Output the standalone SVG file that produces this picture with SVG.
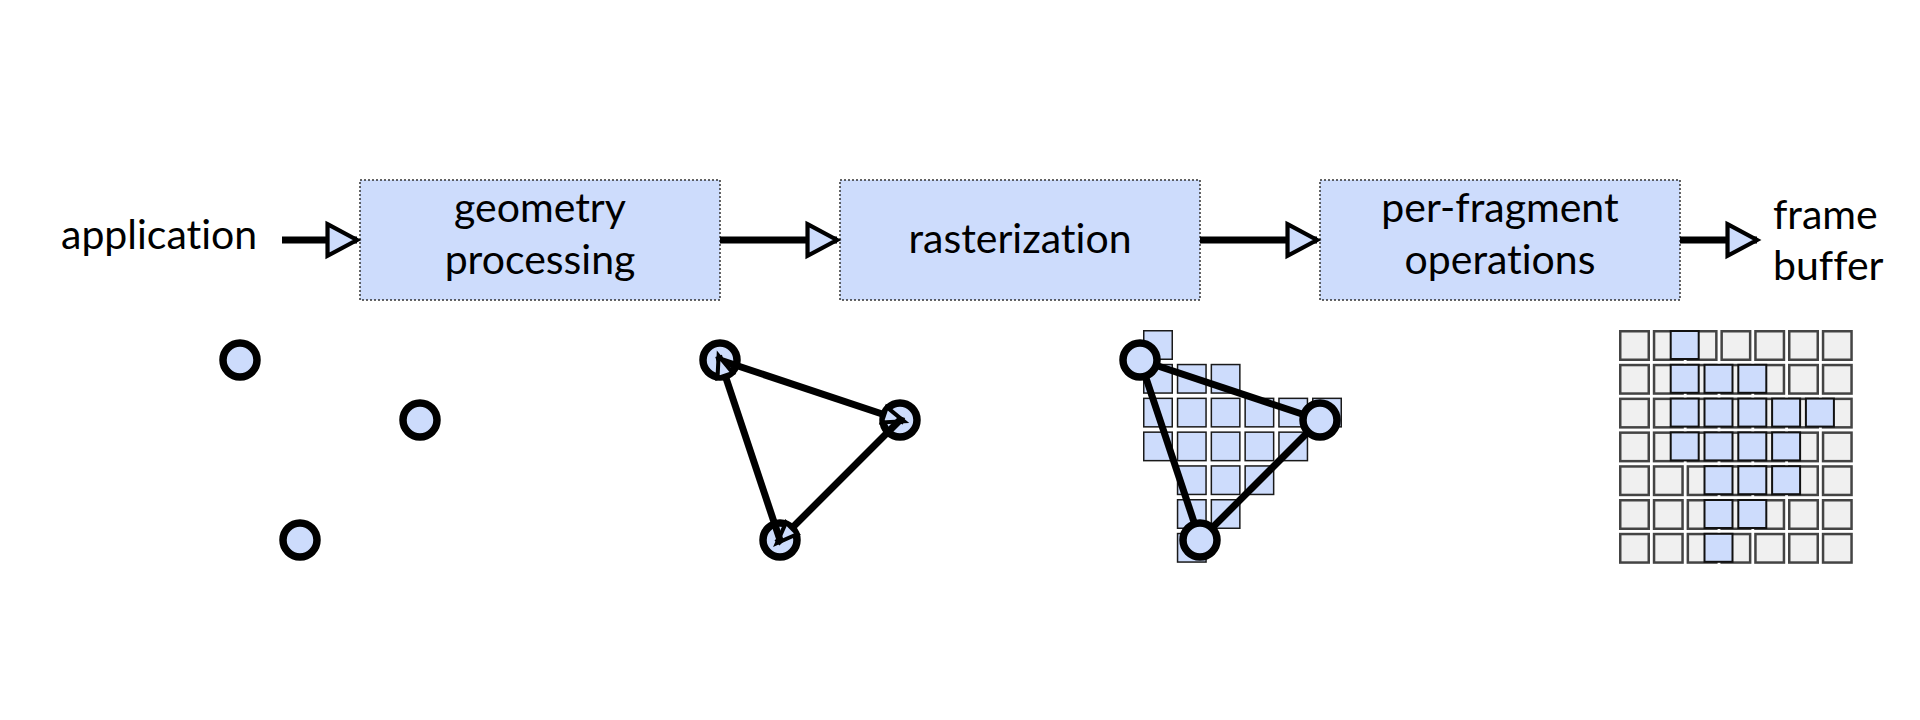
<svg xmlns="http://www.w3.org/2000/svg" width="1920" height="720" viewBox="0 0 1920 720">
  <style>
    .txt { font-family: Lato, "Liberation Sans", sans-serif; font-size: 41px; fill: #000; font-variant-ligatures: none; }
    .mid { text-anchor: middle; }
    .box { fill: #cddcfc; stroke: #333; stroke-width: 1.5; stroke-dasharray: 2 2; }
    .flow { stroke: #000; stroke-width: 7; fill: none; }
    .edge { stroke: #000; stroke-width: 7; fill: none; }
    .vtx { fill: #cddcfc; stroke: #000; stroke-width: 7.5; }
    .frag { fill: #cddcfc; stroke: #1a1a1a; stroke-width: 1.5; }
    .pix { fill: #f0f0f0; stroke: #444; stroke-width: 2.5; }
    .pixon { fill: #cddcfc; stroke: #111; stroke-width: 2; }
  </style>
  <defs>
    <marker id="bigHead" markerUnits="userSpaceOnUse" markerWidth="40" markerHeight="40" viewBox="-4 -19 38 38" refX="28" refY="0" orient="auto" overflow="visible">
      <path d="M0,-15 L28,0 L0,15 Z" fill="#cddcfc" stroke="#000" stroke-width="4" stroke-linejoin="miter"/>
    </marker>
    <marker id="smallHead" markerUnits="userSpaceOnUse" markerWidth="30" markerHeight="30" viewBox="-3 -10 26 20" refX="18" refY="0" orient="auto" overflow="visible">
      <path d="M0,-7 L18,0 L0,7 Z" fill="#cddcfc" stroke="#000" stroke-width="3.5" stroke-linejoin="miter"/>
    </marker>
  </defs>

  <rect width="1920" height="720" fill="#fff"/>

  <!-- pipeline nodes -->
  <g id="application">
    <text class="txt" x="61" y="249">application</text>
  </g>
  <g id="geometry-processing">
    <rect class="box" x="360" y="180" width="360" height="120"/>
    <text class="txt mid" x="540" y="222">geometry</text>
    <text class="txt mid" x="540" y="274">processing</text>
  </g>
  <g id="rasterization">
    <rect class="box" x="840" y="180" width="360" height="120"/>
    <text class="txt mid" x="1020" y="253">rasterization</text>
  </g>
  <g id="per-fragment-operations">
    <rect class="box" x="1320" y="180" width="360" height="120"/>
    <text class="txt mid" x="1500" y="222">per-fragment</text>
    <text class="txt mid" x="1500" y="274">operations</text>
  </g>
  <g id="frame-buffer">
    <text class="txt" x="1773" y="229">frame</text>
    <text class="txt" x="1773" y="280">buffer</text>
  </g>

  <!-- pipeline connectors -->
  <g id="connectors">
    <line class="flow" x1="282" y1="240" x2="357" y2="240" marker-end="url(#bigHead)"/>
    <line class="flow" x1="720" y1="240" x2="837" y2="240" marker-end="url(#bigHead)"/>
    <line class="flow" x1="1200" y1="240" x2="1317" y2="240" marker-end="url(#bigHead)"/>
    <line class="flow" x1="1680" y1="240" x2="1757" y2="240" marker-end="url(#bigHead)"/>
  </g>

  <!-- panel 1: vertices -->
  <g id="panel-vertices">
    <circle class="vtx" cx="240" cy="360" r="17"/>
    <circle class="vtx" cx="420" cy="420" r="17"/>
    <circle class="vtx" cx="300" cy="540" r="17"/>
  </g>

  <!-- panel 2: primitive -->
  <g id="panel-primitive">
    <circle class="vtx" cx="720" cy="360" r="17"/>
    <circle class="vtx" cx="900" cy="420" r="17"/>
    <circle class="vtx" cx="780" cy="540" r="17"/>
    <line class="edge" x1="720" y1="360" x2="904" y2="421.3" marker-end="url(#smallHead)"/>
    <line class="edge" x1="900" y1="420" x2="777" y2="543" marker-end="url(#smallHead)"/>
    <line class="edge" x1="780" y1="540" x2="718.6" y2="355.8" marker-end="url(#smallHead)"/>
  </g>

  <!-- panel 3: fragments -->
  <g id="panel-fragments">
    <rect class="frag" x="1143.75" y="330.75" width="28.5" height="28.5"/>
    <rect class="frag" x="1143.75" y="364.55" width="28.5" height="28.5"/>
    <rect class="frag" x="1177.55" y="364.55" width="28.5" height="28.5"/>
    <rect class="frag" x="1211.35" y="364.55" width="28.5" height="28.5"/>
    <rect class="frag" x="1143.75" y="398.35" width="28.5" height="28.5"/>
    <rect class="frag" x="1177.55" y="398.35" width="28.5" height="28.5"/>
    <rect class="frag" x="1211.35" y="398.35" width="28.5" height="28.5"/>
    <rect class="frag" x="1245.15" y="398.35" width="28.5" height="28.5"/>
    <rect class="frag" x="1278.95" y="398.35" width="28.5" height="28.5"/>
    <rect class="frag" x="1312.75" y="398.35" width="28.5" height="28.5"/>
    <rect class="frag" x="1143.75" y="432.15" width="28.5" height="28.5"/>
    <rect class="frag" x="1177.55" y="432.15" width="28.5" height="28.5"/>
    <rect class="frag" x="1211.35" y="432.15" width="28.5" height="28.5"/>
    <rect class="frag" x="1245.15" y="432.15" width="28.5" height="28.5"/>
    <rect class="frag" x="1278.95" y="432.15" width="28.5" height="28.5"/>
    <rect class="frag" x="1177.55" y="465.95" width="28.5" height="28.5"/>
    <rect class="frag" x="1211.35" y="465.95" width="28.5" height="28.5"/>
    <rect class="frag" x="1245.15" y="465.95" width="28.5" height="28.5"/>
    <rect class="frag" x="1177.55" y="499.75" width="28.5" height="28.5"/>
    <rect class="frag" x="1211.35" y="499.75" width="28.5" height="28.5"/>
    <rect class="frag" x="1177.55" y="533.55" width="28.5" height="28.5"/>
    <line class="edge" x1="1140" y1="360" x2="1320" y2="420"/>
    <line class="edge" x1="1320" y1="420" x2="1200" y2="540"/>
    <line class="edge" x1="1200" y1="540" x2="1140" y2="360"/>
    <circle class="vtx" cx="1140" cy="360" r="17"/>
    <circle class="vtx" cx="1320" cy="420" r="17"/>
    <circle class="vtx" cx="1200" cy="540" r="17"/>
  </g>

  <!-- panel 4: frame buffer pixels -->
  <g id="panel-pixels">
    <g id="pixel-grid">
      <g transform="translate(0,0)">
        <rect class="pix" x="1620.25" y="331.25" width="28.5" height="28.5"/>
        <rect class="pix" x="1654.05" y="331.25" width="28.5" height="28.5"/>
        <rect class="pix" x="1687.85" y="331.25" width="28.5" height="28.5"/>
        <rect class="pix" x="1721.65" y="331.25" width="28.5" height="28.5"/>
        <rect class="pix" x="1755.45" y="331.25" width="28.5" height="28.5"/>
        <rect class="pix" x="1789.25" y="331.25" width="28.5" height="28.5"/>
        <rect class="pix" x="1823.05" y="331.25" width="28.5" height="28.5"/>
      </g>
      <g transform="translate(0,33.8)">
        <rect class="pix" x="1620.25" y="331.25" width="28.5" height="28.5"/>
        <rect class="pix" x="1654.05" y="331.25" width="28.5" height="28.5"/>
        <rect class="pix" x="1687.85" y="331.25" width="28.5" height="28.5"/>
        <rect class="pix" x="1721.65" y="331.25" width="28.5" height="28.5"/>
        <rect class="pix" x="1755.45" y="331.25" width="28.5" height="28.5"/>
        <rect class="pix" x="1789.25" y="331.25" width="28.5" height="28.5"/>
        <rect class="pix" x="1823.05" y="331.25" width="28.5" height="28.5"/>
      </g>
      <g transform="translate(0,67.6)">
        <rect class="pix" x="1620.25" y="331.25" width="28.5" height="28.5"/>
        <rect class="pix" x="1654.05" y="331.25" width="28.5" height="28.5"/>
        <rect class="pix" x="1687.85" y="331.25" width="28.5" height="28.5"/>
        <rect class="pix" x="1721.65" y="331.25" width="28.5" height="28.5"/>
        <rect class="pix" x="1755.45" y="331.25" width="28.5" height="28.5"/>
        <rect class="pix" x="1789.25" y="331.25" width="28.5" height="28.5"/>
        <rect class="pix" x="1823.05" y="331.25" width="28.5" height="28.5"/>
      </g>
      <g transform="translate(0,101.4)">
        <rect class="pix" x="1620.25" y="331.25" width="28.5" height="28.5"/>
        <rect class="pix" x="1654.05" y="331.25" width="28.5" height="28.5"/>
        <rect class="pix" x="1687.85" y="331.25" width="28.5" height="28.5"/>
        <rect class="pix" x="1721.65" y="331.25" width="28.5" height="28.5"/>
        <rect class="pix" x="1755.45" y="331.25" width="28.5" height="28.5"/>
        <rect class="pix" x="1789.25" y="331.25" width="28.5" height="28.5"/>
        <rect class="pix" x="1823.05" y="331.25" width="28.5" height="28.5"/>
      </g>
      <g transform="translate(0,135.2)">
        <rect class="pix" x="1620.25" y="331.25" width="28.5" height="28.5"/>
        <rect class="pix" x="1654.05" y="331.25" width="28.5" height="28.5"/>
        <rect class="pix" x="1687.85" y="331.25" width="28.5" height="28.5"/>
        <rect class="pix" x="1721.65" y="331.25" width="28.5" height="28.5"/>
        <rect class="pix" x="1755.45" y="331.25" width="28.5" height="28.5"/>
        <rect class="pix" x="1789.25" y="331.25" width="28.5" height="28.5"/>
        <rect class="pix" x="1823.05" y="331.25" width="28.5" height="28.5"/>
      </g>
      <g transform="translate(0,169)">
        <rect class="pix" x="1620.25" y="331.25" width="28.5" height="28.5"/>
        <rect class="pix" x="1654.05" y="331.25" width="28.5" height="28.5"/>
        <rect class="pix" x="1687.85" y="331.25" width="28.5" height="28.5"/>
        <rect class="pix" x="1721.65" y="331.25" width="28.5" height="28.5"/>
        <rect class="pix" x="1755.45" y="331.25" width="28.5" height="28.5"/>
        <rect class="pix" x="1789.25" y="331.25" width="28.5" height="28.5"/>
        <rect class="pix" x="1823.05" y="331.25" width="28.5" height="28.5"/>
      </g>
      <g transform="translate(0,202.8)">
        <rect class="pix" x="1620.25" y="331.25" width="28.5" height="28.5"/>
        <rect class="pix" x="1654.05" y="331.25" width="28.5" height="28.5"/>
        <rect class="pix" x="1687.85" y="331.25" width="28.5" height="28.5"/>
        <rect class="pix" x="1721.65" y="331.25" width="28.5" height="28.5"/>
        <rect class="pix" x="1755.45" y="331.25" width="28.5" height="28.5"/>
        <rect class="pix" x="1789.25" y="331.25" width="28.5" height="28.5"/>
        <rect class="pix" x="1823.05" y="331.25" width="28.5" height="28.5"/>
      </g>
    </g>
    <g id="pixels-on">
      <rect class="pixon" x="1670.7" y="331" width="28" height="28"/>
      <rect class="pixon" x="1670.7" y="364.8" width="28" height="28"/>
      <rect class="pixon" x="1704.5" y="364.8" width="28" height="28"/>
      <rect class="pixon" x="1738.3" y="364.8" width="28" height="28"/>
      <rect class="pixon" x="1670.7" y="398.6" width="28" height="28"/>
      <rect class="pixon" x="1704.5" y="398.6" width="28" height="28"/>
      <rect class="pixon" x="1738.3" y="398.6" width="28" height="28"/>
      <rect class="pixon" x="1772.1" y="398.6" width="28" height="28"/>
      <rect class="pixon" x="1805.9" y="398.6" width="28" height="28"/>
      <rect class="pixon" x="1670.7" y="432.4" width="28" height="28"/>
      <rect class="pixon" x="1704.5" y="432.4" width="28" height="28"/>
      <rect class="pixon" x="1738.3" y="432.4" width="28" height="28"/>
      <rect class="pixon" x="1772.1" y="432.4" width="28" height="28"/>
      <rect class="pixon" x="1704.5" y="466.2" width="28" height="28"/>
      <rect class="pixon" x="1738.3" y="466.2" width="28" height="28"/>
      <rect class="pixon" x="1772.1" y="466.2" width="28" height="28"/>
      <rect class="pixon" x="1704.5" y="500" width="28" height="28"/>
      <rect class="pixon" x="1738.3" y="500" width="28" height="28"/>
      <rect class="pixon" x="1704.5" y="533.8" width="28" height="28"/>
    </g>
  </g>
</svg>
